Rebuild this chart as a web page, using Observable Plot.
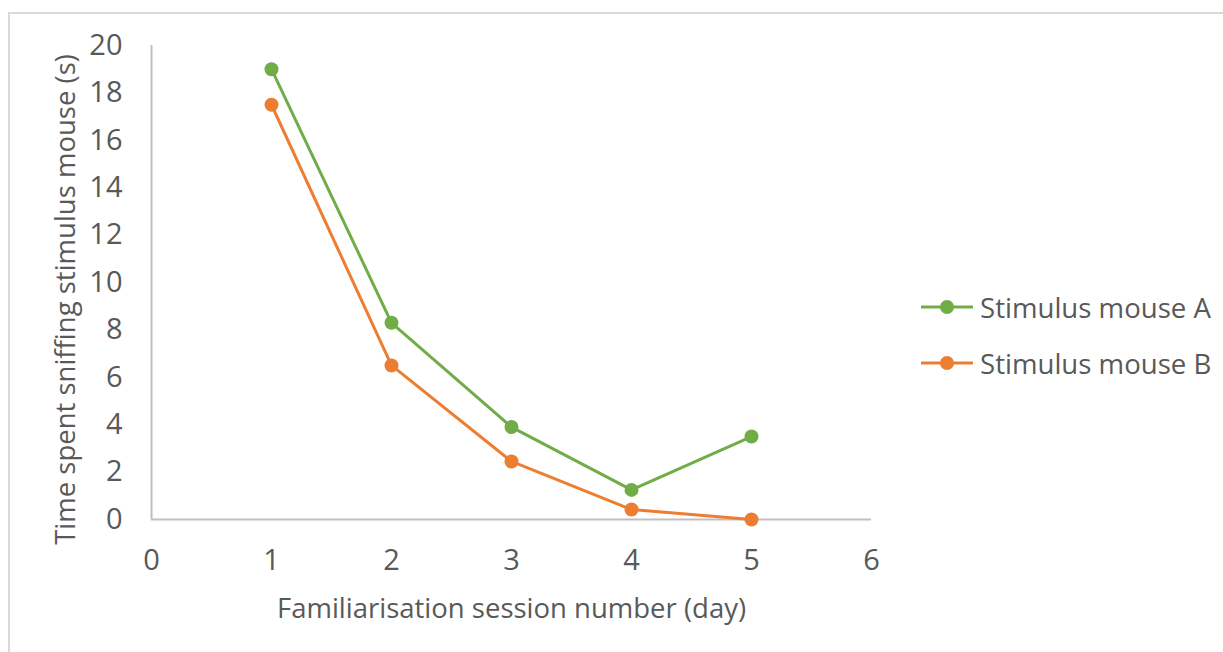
<!DOCTYPE html>
<html><head><meta charset="utf-8">
<script src="https://cdn.jsdelivr.net/npm/d3@7"></script>
<script src="https://cdn.jsdelivr.net/npm/@observablehq/plot@0.6"></script>
<style>
body{margin:0;background:#fff;}
#wrap{position:relative;width:1223px;height:652px;overflow:hidden;font-family:"Open Sans",sans-serif;}
#frame{position:absolute;left:8px;top:12px;right:-5px;bottom:-5px;border-left:2px solid #d9d9d9;border-top:2px solid #d9d9d9;}
#chart{position:absolute;left:0;top:0;}
.leg{position:absolute;left:920px;height:32px;display:flex;align-items:center;font-size:27.6px;color:#595959;white-space:nowrap;}
.leg svg{margin-right:6px;flex:none;}
</style></head>
<body><div id="wrap"><div id="frame"></div><div id="chart"></div></div>
<script>
const sessions = [1, 2, 3, 4, 5];
const seriesNames = ["Stimulus mouse A", "Stimulus mouse B"];
const valuesA = [19.0, 8.3, 3.9, 1.25, 3.5];
const valuesB = [17.5, 6.5, 2.45, 0.42, 0.0];
const colors = ["#70ad47", "#ed7d31"];
const xTicks = [0, 1, 2, 3, 4, 5, 6];
const yTicks = [0, 2, 4, 6, 8, 10, 12, 14, 16, 18, 20];
const xTitle = "Familiarisation session number (day)";
const yTitle = "Time spent sniffing stimulus mouse (s)";

const data = [];
sessions.forEach((s, i) => {
  data.push({series: seriesNames[0], x: s, y: valuesA[i]});
  data.push({series: seriesNames[1], x: s, y: valuesB[i]});
});

const txt = "#595959";
const chart = Plot.plot({
  width: 1223, height: 652,
  marginLeft: 151, marginRight: 352, marginTop: 45, marginBottom: 133,
  style: {fontFamily: "'Open Sans', sans-serif", fontSize: "29px", background: "transparent", overflow: "visible", color: txt},
  x: {domain: [0, 6]},
  y: {domain: [0, 20]},
  color: {domain: seriesNames, range: colors},
  marks: [
    Plot.axisX(xTicks, {tickSize: 0, tickPadding: 30, fontSize: 29, fill: txt, label: null, tickFormat: "d"}),
    Plot.axisY(yTicks, {tickSize: 0, tickPadding: 29, fontSize: 29, fill: txt, label: null, tickFormat: "d"}),
    Plot.ruleX([0], {stroke: "#bfbfbf", strokeWidth: 2}),
    Plot.ruleY([0], {stroke: "#bfbfbf", strokeWidth: 2}),
    Plot.line(data, {x: "x", y: "y", z: "series", stroke: "series", strokeWidth: 3}),
    Plot.dot(data, {x: "x", y: "y", fill: "series", r: 7}),
    Plot.text([xTitle], {frameAnchor: "bottom", lineAnchor: "middle", textAnchor: "middle", dy: 90, fontSize: 27.5, fill: txt}),
    Plot.text([yTitle], {frameAnchor: "left", lineAnchor: "middle", textAnchor: "middle", rotate: -90, dx: -85, dy: 17, fontSize: 27.5, fill: txt})
  ]
});
document.getElementById("chart").appendChild(chart);

const wrap = document.getElementById("wrap");
const legTop = [307, 363];
seriesNames.forEach((name, i) => {
  const d = document.createElement("div");
  d.className = "leg";
  d.style.top = (legTop[i] - 16) + "px";
  d.innerHTML = `<svg width="54" height="32"><line x1="1" x2="53" y1="16" y2="16" stroke="${colors[i]}" stroke-width="3"/><circle cx="27" cy="16" r="7" fill="${colors[i]}"/></svg><span>${name}</span>`;
  wrap.appendChild(d);
});
</script></body></html>
